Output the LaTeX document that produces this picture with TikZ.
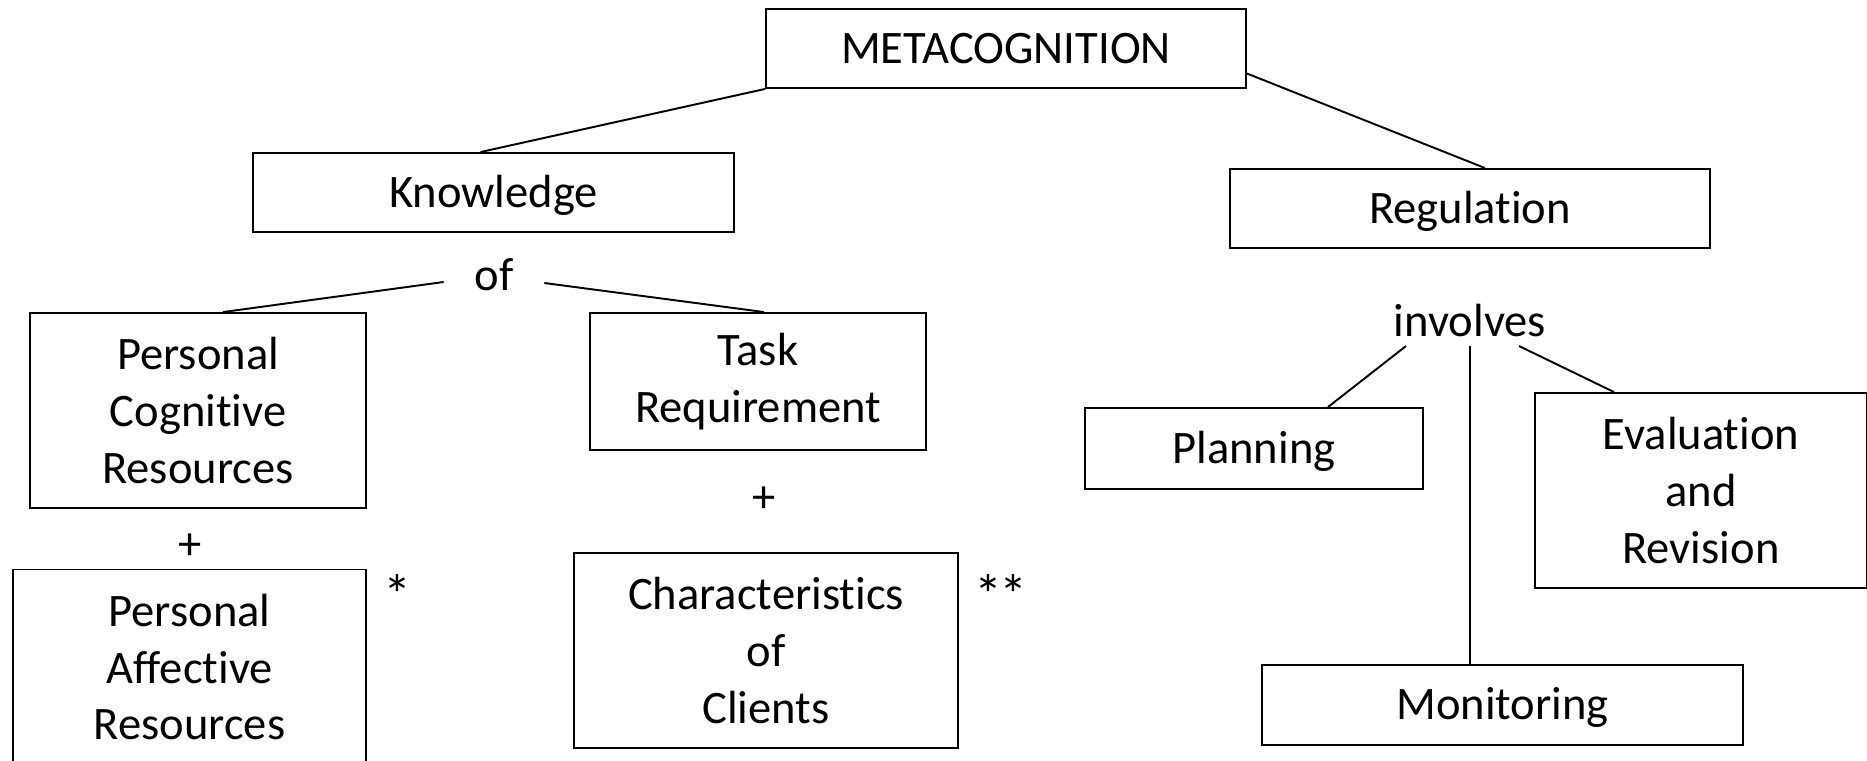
\documentclass[tikz,border=0pt]{standalone}
\usepackage{fontspec}
\setmainfont{Carlito}[Ligatures=NoCommon]
\usepackage{tikz}
\usetikzlibrary{calc}

\begin{document}
\begin{tikzpicture}[
  x=0.02cm, y=-0.02cm,
  font=\fontsize{26.5}{32.3}\selectfont,
  box/.style={draw, line width=1.1pt, align=center, inner sep=0pt},
  single/.style={text height=18pt, text depth=1pt},
  lbl/.style={inner sep=0pt},
  star/.style={inner sep=0pt, font=\fontsize{32}{32}\selectfont},
  link/.style={line width=1.1pt},
]
\useasboundingbox (0,0) rectangle (1867,761);

\node[box, minimum width=9.6cm, minimum height=1.58cm] (meta) at (1006,48.5) {METACOGNITION};

\node[box, single, minimum width=9.62cm, minimum height=1.58cm] (know) at (493.5,192.5) {Knowledge};
\node[box, single, minimum width=9.6cm, minimum height=1.58cm] (reg) at (1470,208.5) {Regulation};

\node[lbl, minimum width=2cm] (of) at (494,275) {of};
\node[box, minimum width=6.72cm, minimum height=3.9cm] (pcr) at (198,410.5) {Personal\\Cognitive\\Resources};
\node[box, minimum width=6.72cm, minimum height=2.74cm] (task) at (758,381.5) {Task\\Requirement};

\node[lbl] (plusa) at (190,547) {+};
\node[box, minimum width=7.06cm, minimum height=3.9cm] (par) at (189.5,667) {Personal\\Affective\\Resources};
\node[star] (stara) at (397,595) {*};

\node[lbl] (plusb) at (764,500) {+};
\node[box, minimum width=7.68cm, minimum height=3.9cm] (chars) at (766,650.5) {Characteristics\\of\\Clients};
\node[star] (starb) at (1001,595) {*\kern-2pt*};

\node[lbl] (inv) at (1470,321) {involves};
\node[box, single, minimum width=6.76cm, minimum height=1.62cm] (plan) at (1254,448.5) {Planning};
\node[box, minimum width=6.64cm, minimum height=3.9cm] (eval) at (1701,490.5) {Evaluation\\and\\Revision};
\node[box, single, minimum width=9.62cm, minimum height=1.6cm] (mon) at (1502.5,705) {Monitoring};

\draw[link] (meta.south west) -- ($(know.north)+(-13,0)$);
\draw[link] ($(meta.east)+(0,25)$) -- ($(reg.north)+(15,0)$);
\draw[link] ($(of.west)+(0,7)$) -- ($(pcr.north)+(25,0)$);
\draw[link] ($(of.east)+(0,8)$) -- ($(task.north)+(6,0)$);
\draw[link] ($(inv.center)+(-64,25)$) -- ($(plan.north)+(74,0)$);
\draw[link] ($(inv.center)+(0,25)$) -- (inv.center |- mon.north);
\draw[link] ($(inv.center)+(49,25)$) -- ($(eval.north)+(-87,0)$);
\end{tikzpicture}
\end{document}
